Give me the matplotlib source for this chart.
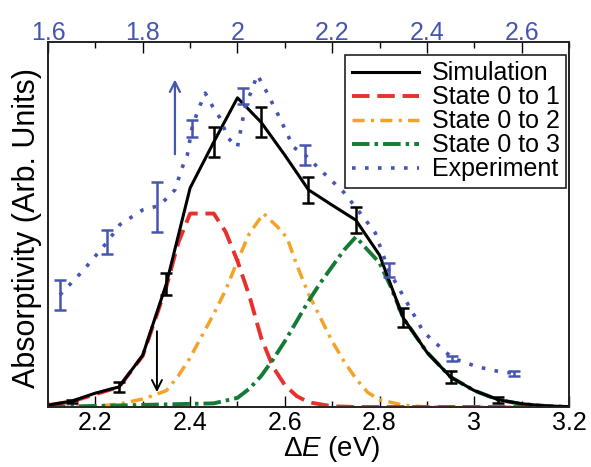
import matplotlib
matplotlib.use("Agg")
import matplotlib.pyplot as plt
import numpy as np

plt.rcParams['font.family'] = ['Liberation Sans', 'DejaVu Sans']
plt.rcParams['mathtext.fontset'] = 'custom'
plt.rcParams['mathtext.rm'] = 'Liberation Sans'
plt.rcParams['mathtext.it'] = 'Liberation Sans:italic'

# ---- data (bottom axis: Delta E in eV) ----
sim_energy = [2.10, 2.15, 2.20, 2.25, 2.30, 2.35, 2.40, 2.45, 2.50, 2.55, 2.60, 2.65,
              2.70, 2.75, 2.80, 2.85, 2.90, 2.95, 3.00, 3.05, 3.10, 3.15, 3.20]
sim_absorb = [0.005, 0.016, 0.038, 0.055, 0.142, 0.338, 0.600, 0.726, 0.847, 0.780, 0.690, 0.595,
              0.553, 0.512, 0.416, 0.244, 0.150, 0.082, 0.045, 0.020, 0.009, 0.003, 0.001]
sim_err_energy = [2.15, 2.25, 2.35, 2.45, 2.55, 2.65, 2.75, 2.85, 2.95, 3.05]
sim_err_absorb = [0.016, 0.055, 0.338, 0.726, 0.780, 0.595, 0.512, 0.244, 0.082, 0.020]
sim_err = [0.004, 0.014, 0.030, 0.040, 0.041, 0.036, 0.036, 0.026, 0.016, 0.008]

s1_energy = [2.10, 2.15, 2.20, 2.25, 2.30, 2.35, 2.375, 2.40, 2.45, 2.475, 2.50, 2.525,
             2.55, 2.575, 2.60, 2.625, 2.65, 2.70, 2.75, 3.20]
s1_absorb = [0.005, 0.015, 0.035, 0.055, 0.140, 0.330, 0.450, 0.530, 0.530, 0.480, 0.400, 0.305,
             0.190, 0.110, 0.060, 0.030, 0.013, 0.002, 0.0, 0.0]

s2_energy = [2.10, 2.20, 2.25, 2.30, 2.325, 2.35, 2.375, 2.40, 2.425, 2.45, 2.475, 2.50,
             2.525, 2.555, 2.585, 2.605, 2.625, 2.65, 2.675, 2.70, 2.725, 2.75, 2.775,
             2.80, 2.85, 2.90, 3.20]
s2_absorb = [0.0, 0.002, 0.008, 0.022, 0.033, 0.045, 0.085, 0.135, 0.195, 0.255, 0.320, 0.400,
             0.475, 0.530, 0.493, 0.463, 0.390, 0.310, 0.245, 0.180, 0.125, 0.078, 0.040,
             0.020, 0.005, 0.0, 0.0]

s3_energy = [2.10, 2.45, 2.50, 2.525, 2.55, 2.575, 2.60, 2.625, 2.65, 2.675, 2.70, 2.725,
             2.75, 2.775, 2.80, 2.825, 2.85, 2.90, 2.95, 3.00, 3.05, 3.10, 3.15, 3.20]
s3_absorb = [0.0, 0.010, 0.025, 0.050, 0.085, 0.130, 0.180, 0.235, 0.290, 0.340, 0.385, 0.430,
             0.466, 0.430, 0.395, 0.326, 0.244, 0.150, 0.082, 0.045, 0.020, 0.008, 0.003, 0.0]

# ---- experiment (top axis energy) ----
exp_energy = [1.625, 1.675, 1.725, 1.752, 1.800, 1.830, 1.847, 1.868, 1.883, 1.894, 1.904,
              1.917, 1.932, 1.949, 1.964, 1.980, 2.000, 2.010, 2.016, 2.030, 2.042, 2.063,
              2.090, 2.118, 2.143, 2.186, 2.224, 2.266, 2.291, 2.319, 2.355, 2.393, 2.435,
              2.454, 2.507, 2.556, 2.583]
exp_absorb = [0.307, 0.375, 0.452, 0.500, 0.540, 0.550, 0.567, 0.595, 0.655, 0.690, 0.764,
              0.814, 0.860, 0.820, 0.790, 0.737, 0.712, 0.780, 0.820, 0.868, 0.910, 0.860,
              0.790, 0.712, 0.690, 0.636, 0.589, 0.520, 0.477, 0.375, 0.293, 0.205, 0.156,
              0.134, 0.110, 0.096, 0.093]
exp_err_energy = [1.625, 1.725, 1.830, 1.904, 2.012, 2.143, 2.320, 2.454, 2.583]
exp_err_absorb = [0.307, 0.452, 0.548, 0.764, 0.852, 0.690, 0.375, 0.134, 0.093]
exp_err = [0.041, 0.034, 0.068, 0.023, 0.023, 0.027, 0.020, 0.007, 0.007]

bottom_ticks = [2.2, 2.4, 2.6, 2.8, 3.0, 3.2]
bottom_labels = ['2.2', '2.4', '2.6', '2.8', '3', '3.2']
top_ticks = [1.6, 1.8, 2.0, 2.2, 2.4, 2.6]
top_labels = ['1.6', '1.8', '2', '2.2', '2.4', '2.6']

BLACK = '#000000'
RED = '#e8302c'
ORANGE = '#f5a326'
GREEN = '#157a35'
BLUE = '#4656b0'

fig = plt.figure(figsize=(5.91, 4.67), dpi=100)
ax = fig.add_axes([48/591, 60/467, 521/591, 365/467])
ax2 = ax.twiny()

ax.set_xlim(2.1, 3.2)
ax.set_ylim(0, 1.0)
ax2.set_xlim(1.6, 2.7)

l_sim, = ax.plot(sim_energy, sim_absorb, color=BLACK, lw=2.2, zorder=5, label='Simulation')
ax.errorbar(sim_err_energy, sim_err_absorb, yerr=sim_err, fmt='none', ecolor=BLACK,
            elinewidth=1.8, capsize=4, capthick=1.8, zorder=6)
l_s1, = ax.plot(s1_energy, s1_absorb, color=RED, lw=2.8, ls=(0, (4.5, 2)), zorder=4,
                label='State 0 to 1')
l_s2, = ax.plot(s2_energy, s2_absorb, color=ORANGE, lw=2.5, ls=(0, (3.5, 1.8, 0.9, 1.8)), zorder=3,
                label='State 0 to 2')
l_s3, = ax.plot(s3_energy, s3_absorb, color=GREEN, lw=2.8, ls=(0, (4.5, 1.3, 0.9, 1.3)), zorder=4,
                label='State 0 to 3')

l_exp, = ax2.plot(exp_energy, exp_absorb, color=BLUE, lw=2.6, ls=(0, (1, 2.6)), zorder=3,
                  label='Experiment')
ax2.errorbar(exp_err_energy, exp_err_absorb, yerr=exp_err, fmt='none', ecolor=BLUE,
             elinewidth=1.8, capsize=4, capthick=1.8, zorder=4)

# arrows
ax.annotate('', xy=(2.33, 0.033), xytext=(2.33, 0.215),
            arrowprops=dict(arrowstyle='->', color=BLACK, lw=1.4, mutation_scale=18))
ax.annotate('', xy=(2.368, 0.905), xytext=(2.368, 0.685),
            arrowprops=dict(arrowstyle='->', color=BLUE, lw=1.6, mutation_scale=18))

# ticks
ax.set_xticks(bottom_ticks)
ax.set_xticklabels(bottom_labels)
ax.set_xticks(np.arange(2.1, 3.21, 0.1), minor=True)
ax.set_yticks([])
ax.tick_params(axis='x', which='major', direction='in', length=8, width=1, labelsize=18, pad=3)
ax.tick_params(axis='x', which='minor', direction='in', length=4, width=1)
ax2.set_xticks(top_ticks)
ax2.set_xticklabels(top_labels)
ax2.set_xticks(np.arange(1.6, 2.71, 0.1), minor=True)
ax2.tick_params(axis='x', which='major', direction='in', length=8, width=1, labelsize=18,
                pad=-2, labelcolor=BLUE)
ax2.tick_params(axis='x', which='minor', direction='in', length=4, width=1)

for a in (ax, ax2):
    for s in a.spines.values():
        s.set_linewidth(1.2)
        s.set_color('#222222')

ax.set_ylabel('Absorptivity (Arb. Units)', fontsize=22)
ax.set_xlabel(r'$\Delta E$ (eV)', fontsize=20)
ax.xaxis.set_label_coords(0.545, -0.074)
ax.yaxis.set_label_coords(-0.012, 0.49)

leg = ax2.legend(handles=[l_sim, l_s1, l_s2, l_s3, l_exp], loc='upper right',
                 bbox_to_anchor=(0.994, 0.964), borderaxespad=0, fontsize=18,
                 handlelength=2.7, handletextpad=0.5, labelspacing=0.0, borderpad=0.25,
                 fancybox=False, framealpha=1, edgecolor='#222222')
leg.get_frame().set_linewidth(1.2)

fig.savefig('out.png', dpi=100)
